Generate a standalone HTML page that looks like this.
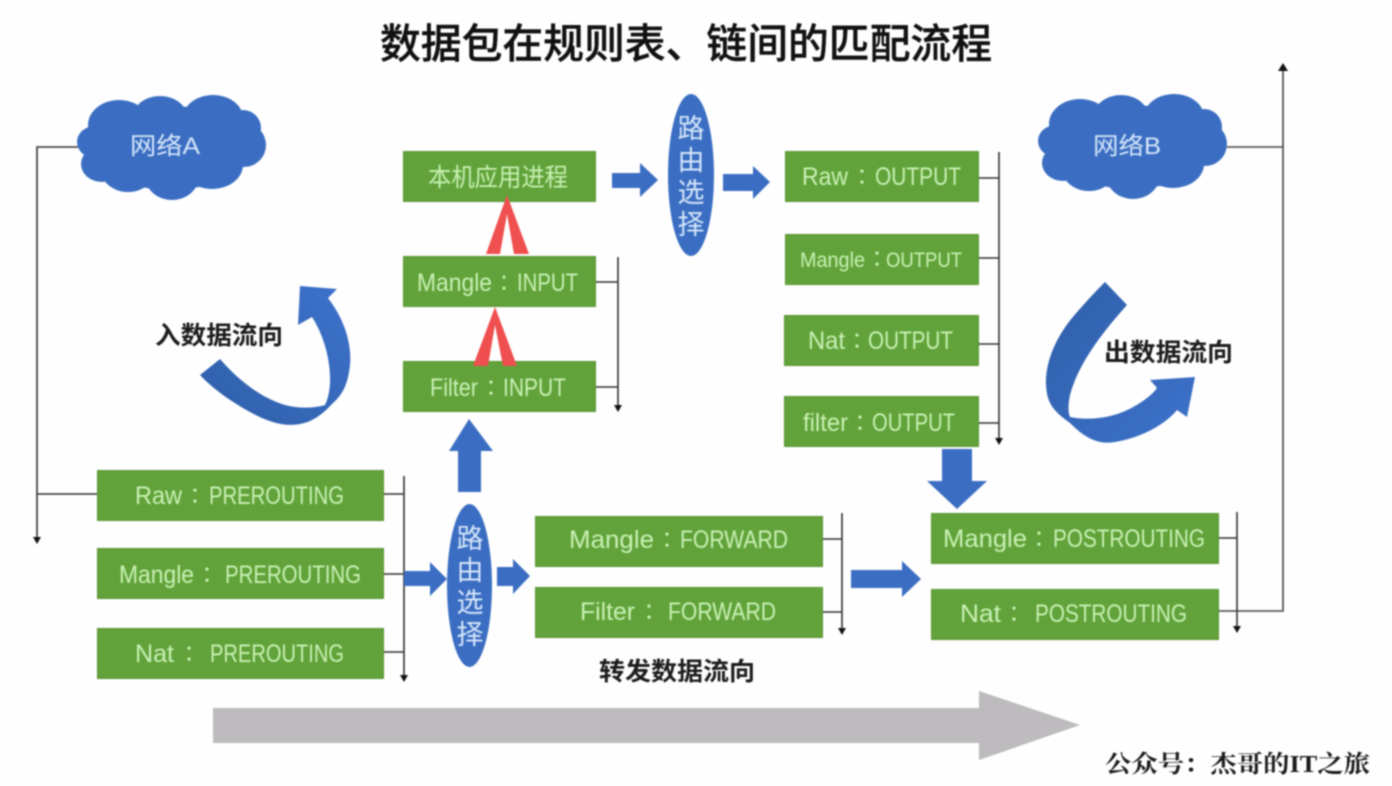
<!DOCTYPE html>
<html><head><meta charset="utf-8">
<style>
html,body{margin:0;padding:0;background:#fefefe;width:1392px;height:786px;overflow:hidden}
svg{display:block;filter:blur(.7px)}
.b{fill:#61a33a;stroke:#5a9436;stroke-width:1}
.t{font-family:"Liberation Sans","Noto Sans CJK SC",sans-serif;font-size:25px;fill:#c9f0b4}
.c{font-family:"Noto Sans CJK TC",sans-serif;font-size:22px;fill:#c9f0b4;text-anchor:middle}
.k{font-family:"Liberation Sans","Noto Sans CJK SC",sans-serif;fill:#1c1c1c;font-weight:700}
.r{font-family:"Liberation Sans","Noto Sans CJK SC",sans-serif;fill:#d5e6fa;text-anchor:middle}
.u{fill:#3b6ec2}
.l{stroke:#333;stroke-width:1.6;fill:none}
.h{fill:#111}
</style></head><body>
<svg width="1392" height="786" viewBox="0 0 1392 786" xmlns="http://www.w3.org/2000/svg">
<defs>
<linearGradient id="g1" x1="0" y1="1" x2="1" y2="0"><stop offset="0" stop-color="#2f5fa9"/><stop offset="1" stop-color="#3d72cb"/></linearGradient>
<linearGradient id="g2" x1="0" y1="0" x2="1" y2="1"><stop offset="0" stop-color="#2f5fa9"/><stop offset="1" stop-color="#3d72cb"/></linearGradient>
</defs>
<rect width="1392" height="786" fill="#fefefe"/>
<text x="380" y="58" class="k" style="font-size:41px;font-weight:500;fill:#111;stroke:#111;stroke-width:.4" textLength="612" lengthAdjust="spacingAndGlyphs">数据包在规则表、链间的匹配流程</text>

<!-- connector lines -->
<path class="l" d="M78 147H37V538M37 494H97"/><path class="h" d="M33 537h8l-4 7z"/>
<path class="l" d="M384 494H404M384 574H404M384 652H404M404 476V676"/><path class="h" d="M400 675h8l-4 7z"/>
<path class="l" d="M596 282H618M596 387H618M618 257V406"/><path class="h" d="M614 405h8l-4 7z"/>
<path class="l" d="M977 178H999M977 258H999M977 344H999M977 423H999M999 152V439"/><path class="h" d="M995 438h8l-4 7z"/>
<path class="l" d="M822 539H842M822 612H842M842 513V629"/><path class="h" d="M838 628h8l-4 7z"/>
<path class="l" d="M1218 538H1237M1237 512V627"/><path class="h" d="M1233 626h8l-4 7z"/>
<path class="l" d="M1218 611H1283V70M1227 147H1283" style="stroke:#444"/><path class="h" d="M1278 71h10l-5-8z"/>

<!-- clouds -->
<g class="u">
<ellipse cx="170" cy="148" rx="78" ry="42"/>
<ellipse cx="95" cy="142" rx="18" ry="16"/>
<ellipse cx="119" cy="125" rx="31" ry="25"/>
<ellipse cx="160" cy="117" rx="27" ry="21"/>
<ellipse cx="213" cy="118" rx="30" ry="23"/>
<ellipse cx="243" cy="128" rx="18" ry="18"/>
<ellipse cx="244" cy="145" rx="22" ry="22"/>
<ellipse cx="212" cy="165" rx="31" ry="24"/>
<ellipse cx="172" cy="176" rx="27" ry="24"/>
<ellipse cx="128" cy="170" rx="27" ry="22"/>
<ellipse cx="102" cy="164" rx="21" ry="18"/>
</g>
<g class="u" transform="translate(961,-1)">
<ellipse cx="170" cy="148" rx="78" ry="42"/>
<ellipse cx="95" cy="142" rx="18" ry="16"/>
<ellipse cx="119" cy="125" rx="31" ry="25"/>
<ellipse cx="160" cy="117" rx="27" ry="21"/>
<ellipse cx="213" cy="118" rx="30" ry="23"/>
<ellipse cx="243" cy="128" rx="18" ry="18"/>
<ellipse cx="244" cy="145" rx="22" ry="22"/>
<ellipse cx="212" cy="165" rx="31" ry="24"/>
<ellipse cx="172" cy="176" rx="27" ry="24"/>
<ellipse cx="128" cy="170" rx="27" ry="22"/>
<ellipse cx="102" cy="164" rx="21" ry="18"/>
</g>
<text class="r" x="165" y="154" style="font-size:24px" textLength="70" lengthAdjust="spacingAndGlyphs" text-anchor="middle">网络A</text>
<text class="r" x="1127" y="154" style="font-size:24px" textLength="68" lengthAdjust="spacingAndGlyphs" text-anchor="middle">网络B</text>

<!-- curved arrows -->
<path fill="url(#g1)" d="M200 375L220 359C240 382 262 398 285 405C300 409 315 408 325 405C335 385 330 345 312 317L298 325L300 286L337 289L328 298C345 320 352 345 350 365C348 385 342 395 333 403C322 415 312 422 300 424C285 427 268 422 250 412C232 402 214 390 200 375Z"/>
<path fill="url(#g2)" d="M1105 282L1127 305C1100 335 1078 365 1070 395C1068 405 1068 412 1070 417C1090 421 1115 418 1135 406C1145 400 1152 395 1157 388L1150 380L1195 377L1187 417L1177 410C1165 425 1140 438 1115 442C1098 445 1085 438 1070 423C1055 412 1047 405 1046 385C1045 360 1058 335 1072 318C1083 305 1095 292 1105 282Z"/>

<!-- boxes -->
<rect class="b" x="403.5" y="151.5" width="192" height="50"/>
<rect class="b" x="403.5" y="256.5" width="192" height="50"/>
<rect class="b" x="403.5" y="361.5" width="192" height="50"/>
<rect class="b" x="785.5" y="151.5" width="193" height="50"/>
<rect class="b" x="785.5" y="234.5" width="193" height="50"/>
<rect class="b" x="784.5" y="315.5" width="194" height="50"/>
<rect class="b" x="784.5" y="396.5" width="194" height="50"/>
<rect class="b" x="97.5" y="470.5" width="286" height="50"/>
<rect class="b" x="97.5" y="548.5" width="286" height="50"/>
<rect class="b" x="97.5" y="628.5" width="286" height="50"/>
<rect class="b" x="535.5" y="516.5" width="287" height="50"/>
<rect class="b" x="535.5" y="587.5" width="287" height="50"/>
<rect class="b" x="931.5" y="513.5" width="287" height="50"/>
<rect class="b" x="931.5" y="589.5" width="287" height="50"/>

<!-- red triangles -->
<path fill="#ef4f4f" d="M507 195L529 254H514L507 214L500 254H486Z"/>
<path fill="#ef4f4f" d="M495 307L517 366H503L495 325L488 366H473Z"/>

<!-- block arrows -->
<path class="u" d="M612 173H640V163L658 180L640 197V188H612Z"/>
<path class="u" d="M723 174H753V166L770 182L753 199V191H723Z"/>
<path class="u" d="M458 492V451H449L469 419L493 451H481V492Z"/>
<path class="u" d="M404 571H430V562L447 579L430 596V586H404Z"/>
<path class="u" d="M497 567H513V559L530 576L513 594V586H497Z"/>
<path class="u" d="M851 570H902V561L921 579L902 597V588H851Z"/>
<path class="u" d="M942 449H972V481H987L957 509L927 481H942Z"/>
<path fill="#bdbbbd" d="M213 708H979V691L1080 725L979 760V743H213Z"/>

<!-- ellipses -->
<ellipse class="u" cx="691" cy="175" rx="23" ry="81"/>
<ellipse class="u" cx="469.5" cy="585.5" rx="22.5" ry="81.5"/>
<g class="r" style="font-size:27px">
<text x="691" y="138">路</text><text x="691" y="170">由</text><text x="691" y="202">选</text><text x="691" y="234">择</text>
<text x="470" y="548">路</text><text x="470" y="580">由</text><text x="470" y="612">选</text><text x="470" y="644">择</text>
</g>

<!-- box labels -->
<text class="t" x="428" y="186" textLength="140" lengthAdjust="spacingAndGlyphs">本机应用进程</text>

<text class="t" x="417" y="291" textLength="75" lengthAdjust="spacingAndGlyphs">Mangle</text><text class="c" x="504" y="291">：</text><text class="t" x="517" y="291" textLength="61" lengthAdjust="spacingAndGlyphs">INPUT</text>
<text class="t" x="430" y="396" textLength="48" lengthAdjust="spacingAndGlyphs">Filter</text><text class="c" x="491" y="396">：</text><text class="t" x="503" y="396" textLength="63" lengthAdjust="spacingAndGlyphs">INPUT</text>

<text class="t" x="802" y="185" textLength="46" lengthAdjust="spacingAndGlyphs">Raw</text><text class="c" x="862" y="185">：</text><text class="t" x="875" y="185" textLength="86" lengthAdjust="spacingAndGlyphs">OUTPUT</text>
<text class="t" x="800" y="267" style="font-size:21px" textLength="65" lengthAdjust="spacingAndGlyphs">Mangle</text><text class="c" x="877" y="267">：</text><text class="t" x="886" y="267" style="font-size:21px" textLength="76" lengthAdjust="spacingAndGlyphs">OUTPUT</text>
<text class="t" x="808" y="349" textLength="37" lengthAdjust="spacingAndGlyphs">Nat</text><text class="c" x="857" y="349">：</text><text class="t" x="868" y="349" textLength="85" lengthAdjust="spacingAndGlyphs">OUTPUT</text>
<text class="t" x="803" y="431" textLength="45" lengthAdjust="spacingAndGlyphs">filter</text><text class="c" x="860" y="431">：</text><text class="t" x="872" y="431" textLength="83" lengthAdjust="spacingAndGlyphs">OUTPUT</text>

<text class="t" x="135" y="504" textLength="47" lengthAdjust="spacingAndGlyphs">Raw</text><text class="c" x="195" y="504">：</text><text class="t" x="209" y="504" textLength="135" lengthAdjust="spacingAndGlyphs">PREROUTING</text>
<text class="t" x="119" y="583" textLength="75" lengthAdjust="spacingAndGlyphs">Mangle</text><text class="c" x="207" y="583">：</text><text class="t" x="225" y="583" textLength="136" lengthAdjust="spacingAndGlyphs">PREROUTING</text>
<text class="t" x="135" y="662" textLength="39" lengthAdjust="spacingAndGlyphs">Nat</text><text class="c" x="189" y="662">：</text><text class="t" x="210" y="662" textLength="134" lengthAdjust="spacingAndGlyphs">PREROUTING</text>

<text class="t" x="569" y="548" textLength="85" lengthAdjust="spacingAndGlyphs">Mangle</text><text class="c" x="667" y="548">：</text><text class="t" x="680" y="548" textLength="108" lengthAdjust="spacingAndGlyphs">FORWARD</text>
<text class="t" x="580" y="620" textLength="55" lengthAdjust="spacingAndGlyphs">Filter</text><text class="c" x="649" y="620">：</text><text class="t" x="668" y="620" textLength="108" lengthAdjust="spacingAndGlyphs">FORWARD</text>

<text class="t" x="943" y="547" textLength="84" lengthAdjust="spacingAndGlyphs">Mangle</text><text class="c" x="1039" y="547">：</text><text class="t" x="1053" y="547" textLength="152" lengthAdjust="spacingAndGlyphs">POSTROUTING</text>
<text class="t" x="960" y="622" textLength="41" lengthAdjust="spacingAndGlyphs">Nat</text><text class="c" x="1014" y="622">：</text><text class="t" x="1035" y="622" textLength="152" lengthAdjust="spacingAndGlyphs">POSTROUTING</text>

<!-- flow labels -->
<text class="k" x="155" y="344" style="font-size:25px" textLength="128" lengthAdjust="spacingAndGlyphs">入数据流向</text>
<text class="k" x="1104" y="361" style="font-size:25px" textLength="129" lengthAdjust="spacingAndGlyphs">出数据流向</text>
<text class="k" x="599" y="680" style="font-size:25px" textLength="156" lengthAdjust="spacingAndGlyphs">转发数据流向</text>
<text x="1105" y="772" style="font-family:'Liberation Serif','Noto Serif CJK SC',serif;font-weight:700;font-size:24px;fill:#1c1c1c" textLength="265" lengthAdjust="spacingAndGlyphs">公众号：杰哥的IT之旅</text>
</svg>
</body></html>
